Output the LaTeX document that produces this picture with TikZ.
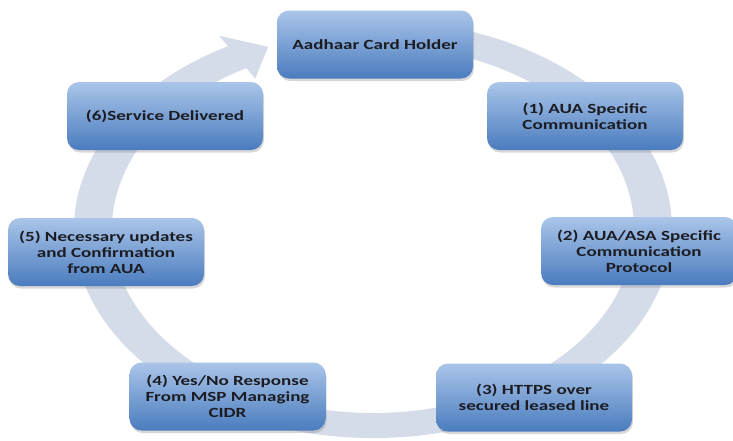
\documentclass[tikz,border=0pt]{standalone}
\usepackage{fontspec}
\newfontfamily\nodefont{Carlito}[FakeStretch=1.36]
\usetikzlibrary{calc,shadows}
\definecolor{ringc}{RGB}{212,219,233}
\definecolor{boxtop}{RGB}{170,197,233}
\definecolor{boxbot}{RGB}{74,124,190}
\definecolor{txt}{RGB}{28,28,34}
\begin{document}
\begin{tikzpicture}[x=1pt,y=-1pt,
  box/.style={rounded corners=12pt, minimum width=196pt, minimum height=68pt,
    top color=boxtop, bottom color=boxbot, draw=none, align=center,
    font=\nodefont\bfseries\fontsize{14}{16}\selectfont, text=txt, inner sep=0pt,
    drop shadow={opacity=0.3, shadow xshift=1pt, shadow yshift=-2.5pt}},
  ringfill/.style={fill=ringc}]
\useasboundingbox (0,0) rectangle (733,440);
\fill[white] (0,0) rectangle (733,440);
\coordinate (c) at (373,229);
\coordinate (B) at ($(c)+(241:280 and 196.5)$);
\coordinate (O) at ($(c)+(241:299 and 209)$);
\coordinate (I) at ($(c)+(241:261 and 184)$);
\coordinate (wo) at ($(B)!1.95!(O)$);
\coordinate (wi) at ($(B)!1.95!(I)$);
\coordinate (tip) at ($(c)+(248:280 and 196.5)$);
\fill[ringfill] ($(c)+(-85:299 and 209)$) arc[start angle=-85, end angle=241, x radius=299, y radius=209]
  -- (wo) -- (tip) -- (wi) -- (I)
  arc[start angle=241, end angle=-85, x radius=261, y radius=184] -- cycle;
\node[box] (h) at (375,44.5) {Aadhaar Card Holder};
\node[box] (s1) at (585,116) {(1) AUA Specific\\Communication};
\node[box] (s2) at (639,251) {(2) AUA/ASA Specific\\Communication\\Protocol};
\node[box] (s3) at (534,397.5) {(3) HTTPS over\\secured leased line};
\node[box] (s4) at (227.5,396.5) {(4) Yes/No Response\\From MSP Managing\\CIDR};
\node[box] (s5) at (106,252) {(5) Necessary updates\\and Confirmation\\from AUA};
\node[box] (s6) at (165,116) {(6)Service Delivered};
\end{tikzpicture}
\end{document}
